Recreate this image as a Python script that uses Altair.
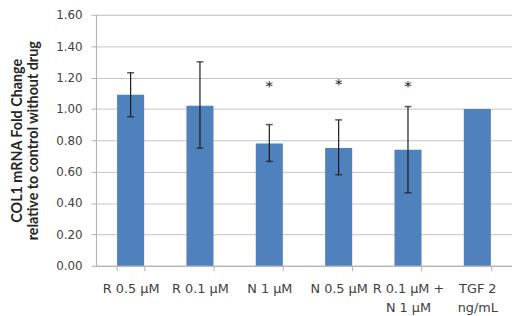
import altair as alt
import pandas as pd

categories = ["R 0.5 µM", "R 0.1 µM", "N 1 µM", "N 0.5 µM", "R 0.1 µM +|N 1 µM", "TGF 2|ng/mL"]
values = [1.09, 1.02, 0.78, 0.75, 0.74, 1.00]
err_low = [0.95, 0.75, 0.665, 0.58, 0.465, None]
err_high = [1.23, 1.30, 0.90, 0.93, 1.015, None]
stars = ["", "", "*", "*", "*", ""]
star_y = [None, None, 1.15, 1.165, 1.15, None]
y_ticks = [0, 0.2, 0.4, 0.6, 0.8, 1.0, 1.2, 1.4, 1.6]
y_title = ["COL1 mRNA Fold Change", "relative to control without drug"]

df = pd.DataFrame({"cat": categories, "value": values, "lo": err_low, "hi": err_high,
                   "star": stars, "sy": star_y})

lab_font = "DejaVu Sans"
title_font = "Lato"
yscale = alt.Scale(domain=[0, 1.6])
xscale = alt.Scale(paddingInner=0.61, paddingOuter=0.305)
xaxis = alt.Axis(labelExpr="split(datum.label, '|')", labelAngle=0,
                 labelFont=lab_font, labelFontSize=13, labelColor="#404040",
                 labelPadding=12, labelLineHeight=19, labelOverlap=False,
                 tickBand="extent", tickColor="#b0b0b0", tickSize=5,
                 domainColor="#b0b0b0", grid=False)
yaxis = alt.Axis(values=y_ticks, format=".2f", labelOverlap=False,
                 labelFont=lab_font, labelFontSize=12, labelColor="#404040",
                 labelPadding=9, tickSize=5, tickColor="#b0b0b0",
                 domainColor="#b0b0b0", gridColor="#c4c4c4",
                 titleFont=title_font, titleFontSize=14.5, titleFontWeight="bold",
                 titleColor="#262626", titlePadding=15, titleLineHeight=17)


def X():
    return alt.X("cat:N", sort=categories, title=None, scale=xscale, axis=xaxis)


def Y(field):
    return alt.Y(field, scale=yscale, title=y_title, axis=yaxis)


base = alt.Chart(df)

bars = base.mark_bar(color="#4f81bd").encode(x=X(), y=Y("value:Q"))

flt = base.transform_filter("datum.lo != null")
err = flt.mark_rule(color="#1a1a1a", strokeWidth=1.2).encode(x=X(), y=Y("lo:Q"), y2="hi:Q")
cap_lo = flt.mark_tick(color="#1a1a1a", size=7, thickness=1.5, orient="horizontal").encode(x=X(), y=Y("lo:Q"))
cap_hi = flt.mark_tick(color="#1a1a1a", size=7, thickness=1.5, orient="horizontal").encode(x=X(), y=Y("hi:Q"))
star_txt = base.transform_filter("datum.sy != null").mark_text(
    font="DejaVu Sans", fontSize=15, color="#1a1a1a", baseline="middle", dy=1).encode(
    x=X(), y=Y("sy:Q"), text="star:N")

chart = alt.layer(bars, err, cap_lo, cap_hi, star_txt).properties(
    width=421, height=254,
    autosize=alt.AutoSizeParams(type="none"),
    padding={"left": 89, "top": 5, "right": 0, "bottom": 50},
).configure_view(stroke=None).configure(background="white")

chart.save("out.html", embed_options={"renderer": "svg", "actions": False})
